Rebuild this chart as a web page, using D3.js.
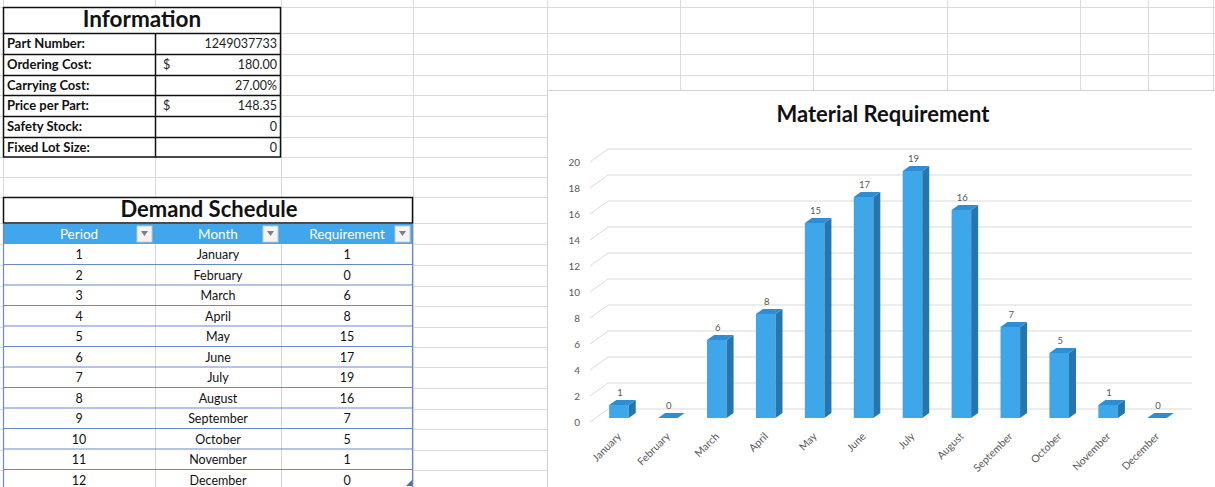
<!DOCTYPE html>
<html lang="en">
<head>
<meta charset="utf-8">
<title>Material Requirement</title>
<script type="text/javascript" src="https://d3js.org/d3.v7.min.js"></script>
<style>
body { margin: 0; background: #fff; }
svg { font-family: Lato, "Open Sans", sans-serif; }
</style>
</head>
<body>
<div id="sheet"></div>
<script type="text/javascript">

// Data read from the sheet
var infoLabels = ["Part Number:", "Ordering Cost:", "Carrying Cost:", "Price per Part:", "Safety Stock:", "Fixed Lot Size:"];
var infoValues = ["1249037733", "180.00", "27.00%", "148.35", "0", "0"];
var infoDollar = [false, true, false, true, false, false];

var periods = [1, 2, 3, 4, 5, 6, 7, 8, 9, 10, 11, 12];
var months = ["January", "February", "March", "April", "May", "June", "July", "August", "September", "October", "November", "December"];
var requirements = [1, 0, 6, 8, 15, 17, 19, 16, 7, 5, 1, 0];
var yTicks = [0, 2, 4, 6, 8, 10, 12, 14, 16, 18, 20];
var headers = ["Period", "Month", "Requirement"];

var w = 1215, h = 487;
var svg = d3.select("#sheet").append("svg").attr("width", w).attr("height", h);

// spreadsheet grid
var rowLines = [7, 33, 54, 75, 95, 116, 137, 157, 177, 197, 223, 244, 265, 286, 306, 327, 347, 367, 388, 409, 429, 450, 470];
var colLines = [3, 155, 281, 413, 547, 680, 813, 947, 1080, 1148, 1213];
var grid = svg.append("g").attr("stroke", "#dadada").attr("stroke-width", 1);
grid.selectAll("line.r").data(rowLines).enter().append("line")
  .attr("x1", 0).attr("x2", w).attr("y1", d => d + 0.5).attr("y2", d => d + 0.5);
grid.selectAll("line.c").data(colLines).enter().append("line")
  .attr("x1", d => d + 0.5).attr("x2", d => d + 0.5).attr("y1", 0).attr("y2", h);

// ---- Information table
var info = svg.append("g");
info.append("rect").attr("x", 3).attr("y", 7).attr("width", 278).attr("height", 150).attr("fill", "#fff");
info.append("text").attr("x", 142).attr("y", 27).attr("text-anchor", "middle")
  .attr("font-size", 22.5).attr("font-weight", "bold").attr("fill", "#111").text("Information");
infoLabels.forEach(function(lab, i) {
  var top = rowLines[i + 1];
  info.append("text").attr("x", 7).attr("y", top + 15).attr("font-size", 13)
    .attr("font-weight", "bold").attr("fill", "#111").text(lab);
  info.append("text").attr("x", 277).attr("y", top + 15).attr("font-size", 12.5)
    .attr("text-anchor", "end").attr("fill", "#222").text(infoValues[i]);
  if (infoDollar[i]) {
    info.append("text").attr("x", 163).attr("y", top + 15).attr("font-size", 12.5)
      .attr("fill", "#222").text("$");
  }
});
var ib = info.append("g").attr("stroke", "#111").attr("stroke-width", 1.5).attr("fill", "none");
ib.append("rect").attr("x", 3.5).attr("y", 7.5).attr("width", 277).attr("height", 149.5);
rowLines.slice(1, 7).forEach(function(y) {
  ib.append("line").attr("x1", 3.5).attr("x2", 280.5).attr("y1", y + 0.5).attr("y2", y + 0.5);
});
ib.append("line").attr("x1", 155.5).attr("x2", 155.5).attr("y1", 33.5).attr("y2", 157);

// ---- Demand Schedule table
var dem = svg.append("g");
var cols = [3, 155, 281, 413];
dem.append("rect").attr("x", 3).attr("y", 197).attr("width", 410).attr("height", 290).attr("fill", "#fff");
dem.append("rect").attr("x", 3.5).attr("y", 197.5).attr("width", 409).attr("height", 25.5)
  .attr("fill", "none").attr("stroke", "#111").attr("stroke-width", 1.5);
dem.append("text").attr("x", 209).attr("y", 217).attr("text-anchor", "middle")
  .attr("font-size", 22).attr("font-weight", "bold").attr("fill", "#111").text("Demand Schedule");

dem.append("rect").attr("x", 3).attr("y", 224).attr("width", 410).attr("height", 20).attr("fill", "#41A6EC");
headers.forEach(function(hd, i) {
  var cx = (cols[i] + cols[i + 1]) / 2;
  dem.append("text").attr("x", cx).attr("y", 239).attr("text-anchor", "middle")
    .attr("font-size", 13.5).attr("fill", "#fff").text(hd);
  var bx = cols[i + 1] - 18;
  dem.append("rect").attr("x", bx).attr("y", 226).attr("width", 15).attr("height", 16)
    .attr("fill", "#f4f4f4").attr("stroke", "#c8c8c8");
  dem.append("path").attr("d", "M" + (bx + 4) + ",231 L" + (bx + 11) + ",231 L" + (bx + 7.5) + ",236 Z")
    .attr("fill", "#808080");
});
// column separators (light)
[155, 281].forEach(function(x) {
  dem.append("line").attr("x1", x + 0.5).attr("x2", x + 0.5).attr("y1", 244).attr("y2", h)
    .attr("stroke", "#d4d4d4");
});
periods.forEach(function(p, i) {
  var top = 244 + i * 20.5;
  var row = [p, months[i], requirements[i]];
  row.forEach(function(v, j) {
    dem.append("text").attr("x", (cols[j] + cols[j + 1]) / 2).attr("y", top + 15)
      .attr("text-anchor", "middle").attr("font-size", 12.5).attr("fill", "#111").text(v);
  });
  dem.append("line").attr("x1", 3).attr("x2", 413).attr("y1", top + 20.5).attr("y2", top + 20.5)
    .attr("stroke", "#6a88cf").attr("stroke-width", 1.2);
});
dem.append("line").attr("x1", 3.5).attr("x2", 3.5).attr("y1", 224).attr("y2", h).attr("stroke", "#6a88cf").attr("stroke-width", 1.2);
dem.append("line").attr("x1", 412.5).attr("x2", 412.5).attr("y1", 224).attr("y2", h).attr("stroke", "#6a88cf").attr("stroke-width", 1.2);
dem.append("path").attr("d", "M406,486 L412,480 L412,486 Z").attr("fill", "#4a6bb5");

// ---- Chart
var chart = svg.append("g");
chart.append("rect").attr("x", 547.5).attr("y", 90.5).attr("width", 700).attr("height", 420)
  .attr("fill", "#fff").attr("stroke", "#d0d0d0");
chart.append("text").attr("x", 883).attr("y", 122).attr("text-anchor", "middle")
  .attr("font-size", 22).attr("font-weight", "bold").attr("fill", "#111").text("Material Requirement");

var x = d3.scaleBand().domain(months).range([594.5, 1181.5]).paddingInner(0.6).paddingOuter(0.3);
var yFront = d3.scaleLinear().domain([0, 20]).range([418, 158]);
var yBack = d3.scaleLinear().domain([0, 20]).range([409, 149]);
var yLab = d3.scaleLinear().domain([0, 20]).range([422, 162]);

// gridlines with the side-wall diagonal
chart.append("g").selectAll("path").data(yTicks).enter().append("path")
  .attr("d", d => "M590," + yLab(d) + " L608," + yBack(d) + " L1192," + yBack(d))
  .attr("fill", "none").attr("stroke", "#d9d9d9").attr("stroke-width", 1);

// y axis labels
chart.append("g").selectAll("text").data(yTicks).enter().append("text")
  .attr("x", 580).attr("y", d => yLab(d) + 3.5).attr("text-anchor", "end")
  .attr("font-size", 10).attr("fill", "#595959").text(d => d);

// 3D bars
var dx = 7, dy = -5;
var bars = chart.append("g").selectAll("g").data(months).enter().append("g");
bars.each(function(m, i) {
  var g = d3.select(this);
  var v = requirements[i];
  var x0 = x(m), bw = x.bandwidth(), top = yFront(v), bot = yFront(0);
  if (v > 0) {
    g.append("rect").attr("x", x0).attr("y", top).attr("width", bw).attr("height", bot - top).attr("fill", "#3DA7EA");
    g.append("path").attr("d", "M" + (x0 + bw) + "," + top + " L" + (x0 + bw + dx) + "," + (top + dy) +
      " L" + (x0 + bw + dx) + "," + (bot + dy) + " L" + (x0 + bw) + "," + bot + " Z").attr("fill", "#2575AE");
  }
  g.append("path").attr("d", "M" + x0 + "," + top + " L" + (x0 + dx) + "," + (top + dy) +
    " L" + (x0 + bw + dx) + "," + (top + dy) + " L" + (x0 + bw) + "," + top + " Z").attr("fill", "#2F8DD3");
  g.append("text").attr("x", x0 + bw / 2 + 1).attr("y", top - 9).attr("text-anchor", "middle")
    .attr("font-size", 9.5).attr("fill", "#595959").text(v);
});

// x axis labels, rotated
chart.append("g").selectAll("text").data(months).enter().append("text")
  .attr("transform", d => "translate(" + (x(d) + x.bandwidth() / 2 + 3) + ",437) rotate(-45)")
  .attr("text-anchor", "end").attr("font-size", 10.5).attr("fill", "#595959").text(d => d);

</script>
</body>
</html>
